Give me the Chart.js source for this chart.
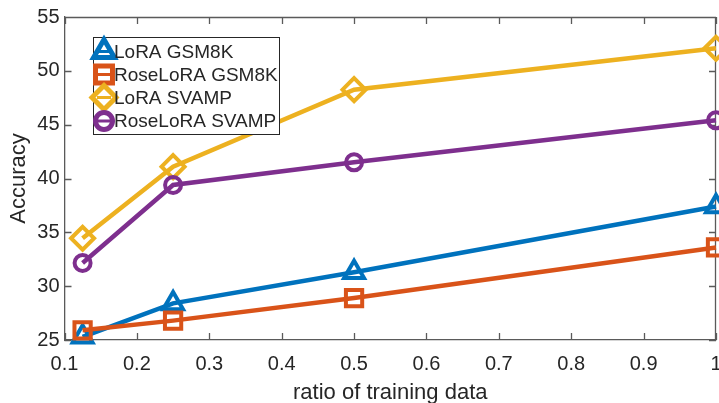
<!DOCTYPE html>
<html>
<head>
<meta charset="utf-8">
<script src="https://cdn.jsdelivr.net/npm/chart.js@4.4.0/dist/chart.umd.min.js"></script>
<style>
  html, body { margin: 0; padding: 0; background: #fff; }
  #wrap { width: 719px; height: 403px; position: relative; }
</style>
</head>
<body>
<div id="wrap"><canvas id="lineChart"></canvas></div>
<script>
// values
const ratios = [0.125, 0.25, 0.5, 1];
const loraGsm8k = [25.3, 28.4, 31.3, 37.4];
const roseloraGsm8k = [25.9, 26.8, 28.9, 33.6];
const loraSvamp = [34.45, 41.1, 48.25, 52.1];
const roseloraSvamp = [32.15, 39.4, 41.5, 45.4];
const seriesNames = ["LoRA GSM8K", "RoseLoRA GSM8K", "LoRA SVAMP", "RoseLoRA SVAMP"];
const xTicks = [0.1, 0.2, 0.3, 0.4, 0.5, 0.6, 0.7, 0.8, 0.9, 1];
const yTicks = [25, 30, 35, 40, 45, 50, 55];

const FONT = "'Liberation Sans', Arial, Helvetica, sans-serif";
const TEXT = "#262626";
const AXIS = "#5a5a5a";

function pairs(ys) {
  return ratios.map((x, i) => ({ x: x, y: ys[i] }));
}

function makeSet(label, ys, color, style, radius, order) {
  return {
    label: label,
    data: pairs(ys),
    borderColor: color,
    backgroundColor: color,
    borderWidth: 4.5,
    pointStyle: style,
    pointRadius: radius,
    pointHoverRadius: radius,
    pointBorderWidth: 4,
    pointBackgroundColor: "rgba(0,0,0,0)",
    pointBorderColor: color,
    tension: 0,
    clip: false,
    order: order,
  };
}

const datasets = [
  makeSet(seriesNames[0], loraGsm8k, "#0072BD", "triangle", 11.5, 4),
  makeSet(seriesNames[1], roseloraGsm8k, "#D95319", "rect", 11.5, 3),
  makeSet(seriesNames[2], loraSvamp, "#EDB120", "rectRot", 11.5, 2),
  makeSet(seriesNames[3], roseloraSvamp, "#7E2F8E", "circle", 8, 1),
];

// inward ticks on all four sides + top/right box edges (matlab look)
const boxTicks = {
  id: "boxTicks",
  beforeDatasetsDraw(chart) {
    const { ctx, chartArea: a, scales } = chart;
    const len = 7;
    ctx.save();
    ctx.strokeStyle = AXIS;
    ctx.lineWidth = 1.3;
    ctx.beginPath();
    ctx.moveTo(a.left, a.top + 0.5);
    ctx.lineTo(a.right, a.top + 0.5);
    ctx.moveTo(a.right - 0.5, a.top);
    ctx.lineTo(a.right - 0.5, a.bottom);
    xTicks.forEach((v) => {
      const px = Math.round(scales.x.getPixelForValue(v)) + 0.5;
      ctx.moveTo(px, a.bottom);
      ctx.lineTo(px, a.bottom - len);
      ctx.moveTo(px, a.top);
      ctx.lineTo(px, a.top + len);
    });
    yTicks.forEach((v) => {
      const py = Math.round(scales.y.getPixelForValue(v)) + 0.5;
      ctx.moveTo(a.left, py);
      ctx.lineTo(a.left + len, py);
      ctx.moveTo(a.right, py);
      ctx.lineTo(a.right - len, py);
    });
    ctx.stroke();
    ctx.restore();
  },
};

// legend box inside the axes, top left
const innerLegend = {
  id: "innerLegend",
  afterDraw(chart) {
    const ctx = chart.ctx;
    const box = { left: 93.5, top: 37.5, width: 186, height: 97 };
    const rowY = [51.5, 74.5, 97.5, 121];
    const markX = 104;
    ctx.save();
    ctx.fillStyle = "#fff";
    ctx.strokeStyle = "#262626";
    ctx.lineWidth = 1;
    ctx.fillRect(box.left, box.top, box.width, box.height);
    ctx.strokeRect(box.left, box.top, box.width, box.height);
    chart.data.datasets.forEach((ds, i) => {
      const y = rowY[i];
      ctx.strokeStyle = ds.borderColor;
      ctx.lineWidth = 3;
      ctx.beginPath();
      ctx.moveTo(markX - 7, y);
      ctx.lineTo(markX + 7, y);
      ctx.stroke();
      ctx.fillStyle = "rgba(0,0,0,0)";
      ctx.lineWidth = 5;
      Chart.helpers.drawPoint(ctx, {
        pointStyle: ds.pointStyle,
        radius: ds.pointRadius + 0.5,
        rotation: 0,
        borderWidth: 5,
      }, markX, y);
      ctx.fillStyle = TEXT;
      ctx.font = "19px " + FONT;
      ctx.textBaseline = "middle";
      ctx.textAlign = "left";
      ctx.fillText(ds.label, 114, y + 1);
    });
    ctx.restore();
  },
};

const config = {
  type: "line",
  data: { datasets: datasets },
  options: {
    responsive: true,
    maintainAspectRatio: false,
    animation: false,
    layout: { autoPadding: false, padding: { top: 14, right: 3, left: 0, bottom: 0 } },
    plugins: {
      legend: { display: false },
      tooltip: { enabled: false },
    },
    scales: {
      x: {
        type: "linear",
        min: 0.1,
        max: 1,
        afterBuildTicks: (s) => { s.ticks = xTicks.map((v) => ({ value: v })); },
        afterFit: (s) => { s.height = 63; s.paddingLeft = 0; s.paddingRight = 0; },
        grid: { drawOnChartArea: false, drawTicks: false },
        border: { display: true, color: AXIS, width: 1.3 },
        ticks: {
          autoSkip: false,
          maxRotation: 0,
          padding: 12,
          color: TEXT,
          font: { family: FONT, size: 20 },
          callback: (v) => String(v),
        },
        title: {
          display: true,
          text: "ratio of training data",
          color: TEXT,
          font: { family: FONT, size: 22 },
          padding: { top: 0, bottom: -3 },
        },
      },
      y: {
        min: 25,
        max: 55,
        afterBuildTicks: (s) => { s.ticks = yTicks.map((v) => ({ value: v })); },
        afterFit: (s) => { s.width = 64.5; },
        grid: { drawOnChartArea: false, drawTicks: false },
        border: { display: true, color: AXIS, width: 1.3 },
        ticks: {
          padding: 5,
          color: TEXT,
          font: { family: FONT, size: 20 },
        },
        title: {
          display: true,
          text: "Accuracy",
          color: TEXT,
          font: { family: FONT, size: 22 },
          padding: { top: 6, bottom: 0 },
        },
      },
    },
  },
  plugins: [boxTicks, innerLegend],
};

const ctxLine = document.getElementById("lineChart").getContext("2d");
const lineChart = new Chart(ctxLine, config);
</script>
</body>
</html>
